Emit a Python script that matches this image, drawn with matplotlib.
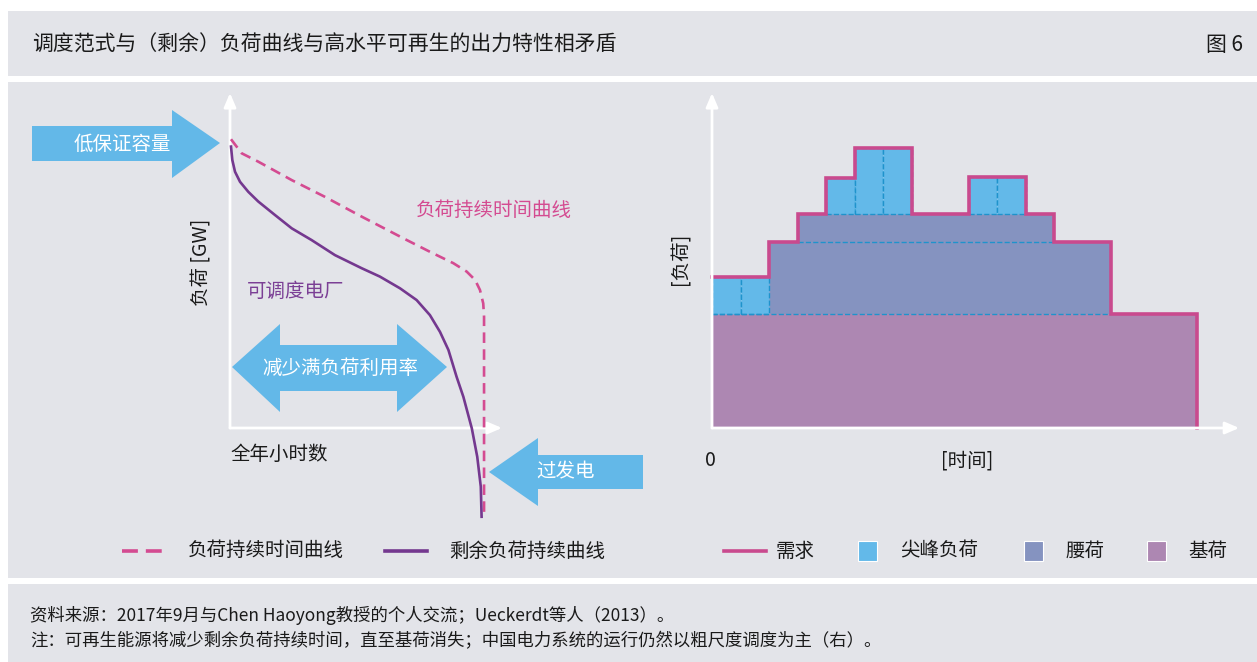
import numpy as np
import matplotlib.pyplot as plt
from matplotlib.patches import Rectangle, Polygon

plt.rcParams['font.family'] = ['Noto Sans CJK SC', 'DejaVu Sans']

W, H = 1257, 662

# left: load duration curves (x = share of annual hours, y = load, arbitrary units)
ldc_x = [0.37, 4.3, 10.4, 22.7, 34.9, 48.4, 65.0, 73.5, 82.1, 87.0, 90.1, 91.9, 93.1, 93.4, 93.4]
ldc_y = [86.2, 82.0, 79.5, 74.0, 69.0, 63.1, 56.1, 52.6, 49.2, 46.7, 44.2, 41.2, 37.2, 33.2, -26.6]
res_x = [0.37, 0.85, 1.84, 3.68, 6.73, 10.4, 16.5, 22.7, 30.0, 38.6, 48.4, 55.1, 62.5,
         68.6, 73.5, 77.2, 80.3, 83.3, 85.8, 88.9, 90.9, 92.2, 92.5]
res_y = [84.0, 80.0, 76.5, 73.5, 70.5, 67.6, 63.6, 59.6, 56.1, 51.6, 47.7, 45.2, 41.7,
         38.2, 33.7, 28.7, 23.3, 15.3, 9.3, -0.1, -8.6, -17.5, -26.5]

# right: dispatch blocks per time slot
slots = np.arange(17)
base = np.array([34] * 17)
mid1 = np.array([34, 34, 55.5, 55.5, 55.5, 55.5, 55.5, 55.5, 55.5, 55.5, 55.5, 55.5, 55.5, 55.5, 34, 34, 34])
mid2 = np.array([34, 34, 55.5, 64, 64, 64, 64, 64, 64, 64, 64, 64, 55.5, 55.5, 34, 34, 34])
demand = np.array([45, 45, 55.5, 64, 74.5, 83.5, 83.5, 64, 64, 75, 75, 64, 55.5, 55.5, 34, 34, 34])

GRAY = '#e3e4e9'
BLUE = '#63b8e8'
PINK = '#d44b91'
DEMAND = '#c94a8e'
PURPLE = '#74388f'
BASE_C = '#ad87b2'
MID_C = '#8593c0'
PEAK_C = '#63b9e9'
DASH_C = '#1f93cc'
TXT = '#1a1a1a'


def box(x0, y0, x1, y1):
    return [x0 / W, 1 - y1 / H, (x1 - x0) / W, (y1 - y0) / H]


fig = plt.figure(figsize=(12.57, 6.62), dpi=100)
fig.patch.set_facecolor('white')
bg = fig.add_axes([0, 0, 1, 1])
bg.set_xlim(0, W)
bg.set_ylim(H, 0)
bg.axis('off')

for y0, y1 in [(11, 76), (82, 578), (584, 662)]:
    bg.add_patch(Rectangle((8, y0), W - 8, y1 - y0, color=GRAY, lw=0))

bg.text(32, 45, '调度范式与（剩余）负荷曲线与高水平可再生的出力特性相矛盾', fontsize=15,
        color=TXT, va='center')
bg.text(1243, 45, '图 6', fontsize=15, color=TXT, va='center', ha='right')

# blue annotation arrows
arrows = {
    '低保证容量': [(32, 126), (172, 126), (172, 110), (220, 143), (172, 178), (172, 161), (32, 161)],
    '减少满负荷利用率': [(232, 367), (280, 324), (280, 345), (397, 345), (397, 324), (447, 367),
                 (397, 412), (397, 391), (280, 391), (280, 412)],
    '过发电': [(489, 472), (538, 438), (538, 455), (643, 455), (643, 489), (538, 489), (538, 506)],
}
label_pos = {'低保证容量': (122, 144), '减少满负荷利用率': (340, 368), '过发电': (566, 472)}
for k, pts in arrows.items():
    bg.add_patch(Polygon(pts, closed=True, color=BLUE, lw=0))
    bg.text(*label_pos[k], k, color='white', fontsize=14, ha='center', va='center')

# left chart
ax1 = fig.add_axes(box(230, 93, 502, 428))
ax1.set_xlim(0, 100)
ax1.set_ylim(0, 100)
ax1.axis('off')
arw = dict(arrowstyle='-|>,head_length=0.7,head_width=0.3', color='white', lw=2,
           shrinkA=0, shrinkB=0, mutation_scale=12)
ax1.annotate('', xy=(0, 100), xytext=(0, 0), arrowprops=arw)
ax1.annotate('', xy=(100, 0), xytext=(0, 0), arrowprops=arw)
ax1.plot(ldc_x, ldc_y, color=PINK, lw=1.9, ls=(0, (4, 2.4)), clip_on=False, zorder=4)
ax1.plot(res_x, res_y, color=PURPLE, lw=1.9, clip_on=False, zorder=4)

bg.text(202, 262, '负荷 [GW]', rotation=90, fontsize=14, color=TXT, ha='center', va='center')
bg.text(230, 454, '全年小时数', fontsize=14, color=TXT, va='center')
bg.text(247, 291, '可调度电厂', fontsize=14, color='#7b3f95', va='center')
bg.text(416, 210, '负荷持续时间曲线', fontsize=14, color=PINK, va='center')

# right chart
ax2 = fig.add_axes(box(712, 93, 1240, 428))
ax2.set_xlim(0, (1240 - 712) / 28.5)
ax2.set_ylim(0, 100)
ax2.axis('off')
ax2.bar(slots, base, width=1, align='edge', color=BASE_C, lw=0)
ax2.bar(slots, mid2 - base, bottom=base, width=1, align='edge', color=MID_C, lw=0)
pk = demand > mid2
ax2.bar(slots[pk], (demand - mid2)[pk], bottom=mid2[pk], width=1, align='edge',
        color=PEAK_C, edgecolor=DASH_C, lw=1, ls='--', zorder=3)
on_base = np.where(demand > base)[0]
ax2.hlines(base[0], on_base[0], on_base[-1] + 1, color=DASH_C, lw=1, ls='--', zorder=3)
on_mid = np.where(mid2 > mid1)[0]
ax2.hlines(mid1[on_mid[0]], on_mid[0], on_mid[-1] + 1, color=DASH_C, lw=1, ls='--', zorder=3)
ax2.step(np.arange(18), np.r_[demand, 0], where='post', color=DEMAND, lw=2.6,
         clip_on=False, zorder=5, solid_joinstyle='miter')
ax2.annotate('', xy=(0, 100), xytext=(0, 0), arrowprops=arw, zorder=6)
ax2.annotate('', xy=(18.5, 0), xytext=(0, 0), arrowprops=arw, zorder=6)

bg.text(710, 460, '0', fontsize=14, color=TXT, ha='center', va='center')
bg.text(967, 461, '[时间]', fontsize=14, color=TXT, ha='center', va='center')
bg.text(681, 259, '[负荷]', rotation=90, fontsize=14, color=TXT, ha='center', va='center')

# legend
ly = 551
bg.plot([122, 164], [ly, ly], color=PINK, lw=2.6, ls=(0, (4.4, 2.2)))
bg.text(188, ly, '负荷持续时间曲线', fontsize=14, color=TXT, va='center')
bg.plot([385, 427], [ly, ly], color=PURPLE, lw=2.6)
bg.text(449, ly, '剩余负荷持续曲线', fontsize=14, color=TXT, va='center')
bg.plot([724, 766], [ly, ly], color=DEMAND, lw=2.6)
bg.text(776, ly, '需求', fontsize=14, color=TXT, va='center')
for x0, c, t, tx in [(858, PEAK_C, '尖峰负荷', 900), (1024, MID_C, '腰荷', 1066),
                     (1147, BASE_C, '基荷', 1188)]:
    bg.add_patch(Rectangle((x0, 541), 19, 20, facecolor=c, edgecolor='white', lw=0.8))
    bg.text(tx, ly, t, fontsize=14, color=TXT, va='center')

bg.text(30, 615, '资料来源：2017年9月与Chen Haoyong教授的个人交流；Ueckerdt等人（2013）。',
        fontsize=12.5, color=TXT, va='center')
bg.text(30, 641, '注：可再生能源将减少剩余负荷持续时间，直至基荷消失；中国电力系统的运行仍然以粗尺度调度为主（右）。',
        fontsize=12.5, color=TXT, va='center')

fig.savefig('out.png', dpi=100, facecolor='white')
